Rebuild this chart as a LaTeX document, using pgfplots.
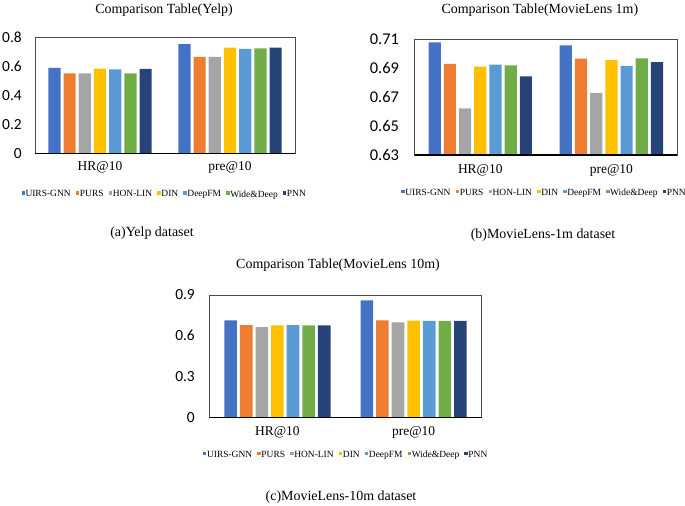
\documentclass[border=0pt]{standalone}
\usepackage{fontspec}
\setmainfont{Liberation Serif}
\newfontfamily\tickfont{Carlito}
\usepackage{pgfplots}
\usepackage{pgfplotstable}
\pgfplotsset{compat=1.18}
\definecolor{c1}{HTML}{4472C4}
\definecolor{c2}{HTML}{ED7D31}
\definecolor{c3}{HTML}{A5A5A5}
\definecolor{c4}{HTML}{FFC000}
\definecolor{c5}{HTML}{5B9BD5}
\definecolor{c6}{HTML}{70AD47}
\definecolor{c7}{HTML}{264478}

\pgfplotstableread{
x UIRS PURS HON DIN DeepFM WD PNN
0 0.592 0.554 0.554 0.586 0.581 0.554 0.584
1 0.756 0.667 0.667 0.731 0.722 0.727 0.731
}\yelp
\pgfplotstableread{
x UIRS PURS HON DIN DeepFM WD PNN
0 0.7077 0.6928 0.6622 0.6909 0.6923 0.6919 0.6843
1 0.7056 0.6964 0.6728 0.6955 0.6914 0.6967 0.6941
}\mlone
\pgfplotstableread{
x UIRS PURS HON DIN DeepFM WD PNN
0 0.714 0.679 0.664 0.677 0.679 0.677 0.677
1 0.861 0.714 0.699 0.711 0.709 0.709 0.709
}\mlten

\pgfplotsset{
  sq/.style={draw=none, fill=#1,
    legend image code/.code={\fill[#1] (0bp,-0.1bp) rectangle (3.4bp,3.3bp);}},
  % #1 = ticklabel font size, #2 = ytick xshift, #3 = xtick yshift, #4 = title xshift, #5 = title yshift
  cmp/.style n args={5}{
    scale only axis,
    ybar=3bp, bar width=12.2bp,
    xmin=-0.5, xmax=1.5, enlarge x limits=false,
    xtick={0,1}, xticklabels={HR@10,pre@10},
    major tick length=0pt,
    axis line style={draw=black!70, line width=0.8bp},
    /pgf/number format/assume math mode=true,
    xticklabel style={font=\fontsize{13.5}{14}\selectfont, anchor=center, inner sep=0pt, yshift=#3},
    yticklabel style={font=\tickfont\fontsize{#1}{#1}\selectfont, anchor=east, inner sep=0pt, xshift=#2},
    every axis title shift=0pt,
    title style={font=\fontsize{14}{15}\selectfont, at={(0.5,1)}, anchor=center, xshift=#4, yshift=#5},
    legend columns=-1,
  },
  leg/.style 2 args={
    legend style={at={(0.5,0)}, anchor=center, xshift=#1, yshift=#2, draw=none, fill=none,
      font=\fontsize{9.5}{10}\selectfont, nodes={inner sep=0.6bp},
      /tikz/every even column/.append style={column sep=4.6bp}},
  },
}

\begin{document}
\begin{tikzpicture}
\useasboundingbox (0,0) rectangle (685bp,-506bp);

% (a) Yelp
\begin{axis}[cmp={15.5}{-13bp}{-14bp}{-1bp}{28bp}, leg={-1bp}{-41.2bp},
  at={(35bp,-153.3bp)}, anchor=south west,
  width=260bp, height=115.6bp, ymin=0, ymax=0.8,
  ytick={0,0.2,0.4,0.6,0.8}, yticklabels={0,0.2,0.4,0.6,0.8},
  title={Comparison Table(Yelp)}]
\addplot[sq=c1] table[x=x,y=UIRS]{\yelp};
\addplot[sq=c2] table[x=x,y=PURS]{\yelp};
\addplot[sq=c3] table[x=x,y=HON]{\yelp};
\addplot[sq=c4] table[x=x,y=DIN]{\yelp};
\addplot[sq=c5] table[x=x,y=DeepFM]{\yelp};
\addplot[sq=c6] table[x=x,y=WD]{\yelp};
\addplot[sq=c7] table[x=x,y=PNN]{\yelp};
\legend{UIRS-GNN,PURS,HON-LIN,DIN,DeepFM,Wide\&Deep,PNN}
\draw[black, line width=1.4bp] (rel axis cs:0,0) -- (rel axis cs:1,0);
\end{axis}

% (b) MovieLens 1m
\begin{axis}[cmp={16.5}{-15.5bp}{-15bp}{-6bp}{29bp}, leg={-2bp}{-38bp},
  at={(414.7bp,-155bp)}, anchor=south west,
  width=262.3bp, height=116bp, ymin=0.63, ymax=0.71,
  ytick={0.63,0.65,0.67,0.69,0.71}, yticklabels={0.63,0.65,0.67,0.69,0.71},
  title={Comparison Table(MovieLens 1m)}]
\addplot[sq=c1] table[x=x,y=UIRS]{\mlone};
\addplot[sq=c2] table[x=x,y=PURS]{\mlone};
\addplot[sq=c3] table[x=x,y=HON]{\mlone};
\addplot[sq=c4] table[x=x,y=DIN]{\mlone};
\addplot[sq=c5] table[x=x,y=DeepFM]{\mlone};
\addplot[sq=c6] table[x=x,y=WD]{\mlone};
\addplot[sq=c7] table[x=x,y=PNN]{\mlone};
\legend{UIRS-GNN,PURS,HON-LIN,DIN,DeepFM,Wide\&Deep,PNN}
\draw[black, line width=1.4bp] (rel axis cs:0,0) -- (rel axis cs:1,0);
\end{axis}

% (c) MovieLens 10m
\begin{axis}[cmp={15.5}{-14.3bp}{-15.4bp}{-7.5bp}{30bp}, leg={0bp}{-37.7bp},
  at={(209.3bp,-417.3bp)}, anchor=south west,
  width=272.4bp, height=122.3bp, ymin=0, ymax=0.9,
  bar width=12.6bp,
  ytick={0,0.3,0.6,0.9}, yticklabels={0,0.3,0.6,0.9},
  title={Comparison Table(MovieLens 10m)}]
\addplot[sq=c1] table[x=x,y=UIRS]{\mlten};
\addplot[sq=c2] table[x=x,y=PURS]{\mlten};
\addplot[sq=c3] table[x=x,y=HON]{\mlten};
\addplot[sq=c4] table[x=x,y=DIN]{\mlten};
\addplot[sq=c5] table[x=x,y=DeepFM]{\mlten};
\addplot[sq=c6] table[x=x,y=WD]{\mlten};
\addplot[sq=c7] table[x=x,y=PNN]{\mlten};
\legend{UIRS-GNN,PURS,HON-LIN,DIN,DeepFM,Wide\&Deep,PNN}
\draw[black, line width=1.4bp] (rel axis cs:0,0) -- (rel axis cs:1,0);
\end{axis}

\node[font=\fontsize{14}{15}\selectfont] at (152bp,-233bp) {(a)Yelp dataset};
\node[font=\fontsize{14}{15}\selectfont] at (543bp,-235bp) {(b)MovieLens-1m dataset};
\node[font=\fontsize{14}{15}\selectfont] at (341bp,-496.7bp) {(c)MovieLens-10m dataset};
\end{tikzpicture}
\end{document}
